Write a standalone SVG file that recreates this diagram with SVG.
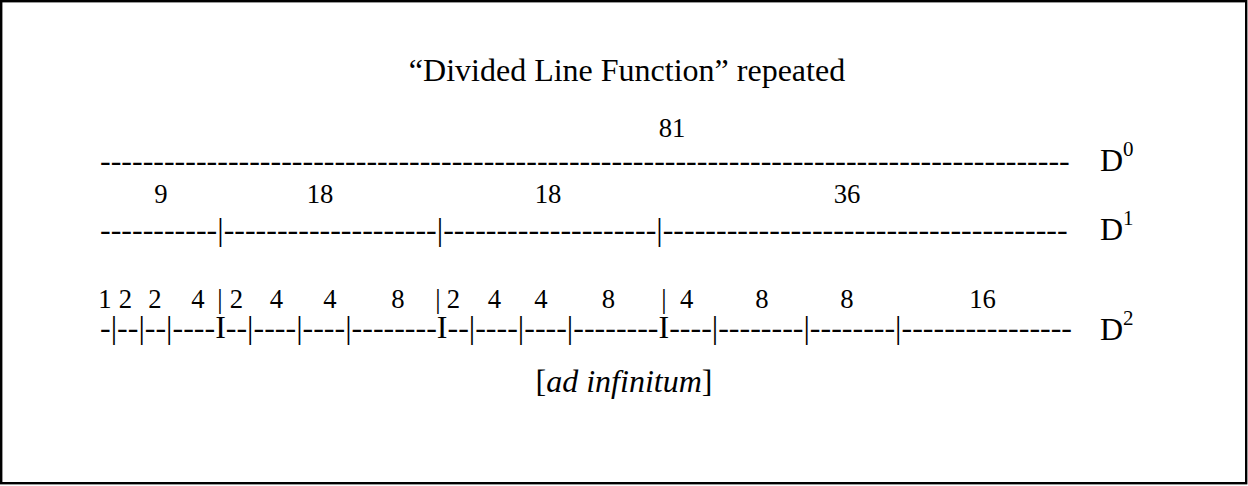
<svg xmlns="http://www.w3.org/2000/svg" width="1248" height="486" viewBox="0 0 1248 486">
<style>
text{font-family:"Liberation Serif","Times New Roman",serif;fill:#000}
.big{font-size:32px}
.lab{font-size:26.7px;text-anchor:middle}
.sup{font-size:21px}
.c{text-anchor:middle}
</style>
<rect x="1.2" y="1.2" width="1245" height="482" fill="#fff" stroke="#000" stroke-width="2.4"/>
<g id="title"><text class="big c" x="627" y="81">“Divided Line Function” repeated</text></g>
<g id="row-D0">
<text class="lab" x="672" y="137">81</text>
<text class="big" x="100" y="170.5">-------------------------------------------------------------------------------------------</text>
<text class="big" x="1100" y="171">D<tspan class="sup" dy="-15">0</tspan></text>
</g>
<g id="row-D1">
<text class="lab" x="161" y="203">9</text>
<text class="lab" x="320" y="203">18</text>
<text class="lab" x="548" y="203">18</text>
<text class="lab" x="847" y="203">36</text>
<text class="big" x="100" y="239.5">-----------|--------------------|--------------------|--------------------------------------</text>
<text class="big" x="1100" y="240">D<tspan class="sup" dy="-15">1</tspan></text>
</g>
<g id="row-D2">
<text class="lab" x="105" y="308">1</text>
<text class="lab" x="125.5" y="308">2</text>
<text class="lab" x="155" y="308">2</text>
<text class="lab" x="198" y="308">4</text>
<text class="lab" x="220" y="308">|</text>
<text class="lab" x="236.5" y="308">2</text>
<text class="lab" x="276.5" y="308">4</text>
<text class="lab" x="330" y="308">4</text>
<text class="lab" x="398" y="308">8</text>
<text class="lab" x="438" y="308">|</text>
<text class="lab" x="453.5" y="308">2</text>
<text class="lab" x="494.5" y="308">4</text>
<text class="lab" x="541" y="308">4</text>
<text class="lab" x="608.5" y="308">8</text>
<text class="lab" x="664" y="308">|</text>
<text class="lab" x="686.7" y="308">4</text>
<text class="lab" x="762" y="308">8</text>
<text class="lab" x="847" y="308">8</text>
<text class="lab" x="982.5" y="308">16</text>
<text class="big" x="100" y="338">-|--|--|----I--|----|----|--------I--|----|----|--------I----|--------|--------|----------------</text>
<text class="big" x="1100" y="340">D<tspan class="sup" dy="-15">2</tspan></text>
</g>
<g id="footer"><text class="big c" x="624" y="392">[<tspan font-style="italic">ad infinitum</tspan>]</text></g>
</svg>
